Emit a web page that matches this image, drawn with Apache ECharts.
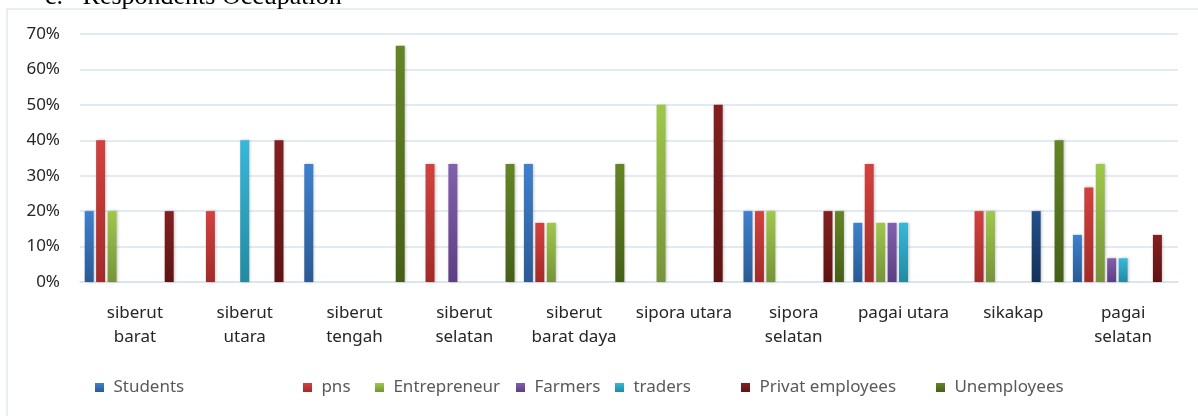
<!DOCTYPE html>
<html>
<head>
<meta charset="utf-8">
<script src="https://cdn.jsdelivr.net/npm/echarts@6/dist/echarts.min.js"></script>
<style>
  html, body { margin: 0; padding: 0; background: #fff; }
  #main { width: 1198px; height: 416px; }
</style>
</head>
<body>
<div id="main"></div>
<script>
var categories = ['siberut\nbarat', 'siberut\nutara', 'siberut\ntengah', 'siberut\nselatan', 'siberut\nbarat daya',
                  'sipora utara', 'sipora\nselatan', 'pagai utara', 'sikakap', 'pagai\nselatan'];
var yTicks = [0, 10, 20, 30, 40, 50, 60, 70];

var students     = [20, null, 33.3, null, 33.3, null, 20, 16.7, null, 13.3];
var pns          = [40, 20, null, 33.3, 16.7, null, 20, 33.3, 20, 26.7];
var entrepreneur = [20, null, null, null, 16.7, 50, 20, 16.7, 20, 33.3];
var farmers      = [null, null, null, 33.3, null, null, null, 16.7, null, 6.7];
var traders      = [null, 40, null, null, null, null, null, 16.7, null, 6.7];
var series6      = [null, null, null, null, null, null, null, null, null, null];
var series7      = [null, null, null, null, null, null, null, null, 20, null];
var privat       = [20, 40, null, null, null, 50, 20, null, null, 13.3];
var unemployees  = [null, null, 66.7, 33.3, 33.3, null, 20, null, 40, null];

var chart = echarts.init(document.getElementById('main'));

function grad(top, bottom) {
	return new echarts.graphic.LinearGradient(0, 0, 0, 1, [
		{offset: 0, color: top},
		{offset: 1, color: bottom}
	]);
}

function bar(name, data, top, bottom) {
	return {
		name: name,
		type: 'bar',
		data: data,
		barWidth: 9,
		barGap: '27%',
		color: bottom,
		itemStyle: {
			color: grad(top, bottom),
			shadowColor: 'rgba(0,0,0,0.25)',
			shadowBlur: 3,
			shadowOffsetX: 1
		}
	};
}

var legendFont = {fontFamily: 'Noto Sans', fontSize: 17, color: '#595959'};
function leg(name, left) {
	return {
		data: [name],
		left: left,
		top: 374,
		itemWidth: 9,
		itemHeight: 9,
		itemGap: 0,
		icon: 'rect',
		formatter: ' {name}',
		textStyle: legendFont,
		selectedMode: false
	};
}

var option = {
	animation: false,
	title: {
		text: 'c.   Respondents Occupation',
		left: 40,
		top: -21,
		textStyle: {fontFamily: 'Liberation Serif', fontSize: 26, fontWeight: 'normal', color: '#000'}
	},
	graphic: [{
		type: 'rect',
		shape: {x: 7, y: 9, width: 1300, height: 500},
		style: {fill: 'none', stroke: '#d5dce6', lineWidth: 1},
		silent: true
	}],
	legend: [
		leg('Students', 90),
		leg('pns', 298),
		leg('Entrepreneur', 370),
		leg('Farmers', 511),
		leg('traders', 610),
		leg('Privat employees', 736),
		leg('Unemployees', 931)
	],
	grid: {left: 80, right: 20, top: 34, bottom: 134},
	xAxis: {
		type: 'category',
		data: categories,
		axisTick: {show: false},
		axisLine: {lineStyle: {color: '#d9e3f0', width: 1.5}},
		axisLabel: {
			interval: 0,
			margin: 19,
			lineHeight: 24,
			fontFamily: 'Noto Sans',
			fontSize: 17,
			color: '#262626'
		}
	},
	yAxis: {
		type: 'value',
		min: 0,
		max: yTicks[yTicks.length - 1],
		interval: 10,
		axisLine: {show: false},
		axisTick: {show: false},
		splitLine: {lineStyle: {color: '#d9e3f0', width: 1.5}},
		axisLabel: {
			margin: 20,
			formatter: '{value}%',
			fontFamily: 'Noto Sans',
			fontSize: 17,
			color: '#262626'
		}
	},
	series: [
		bar('Students', students, '#3f80cd', '#2b5a94'),
		bar('pns', pns, '#d2423f', '#a12b29'),
		bar('Entrepreneur', entrepreneur, '#9fc84a', '#76933b'),
		bar('Farmers', farmers, '#8160ad', '#5e3f82'),
		bar('traders', traders, '#38b8d9', '#228aa1'),
		bar('Series 6', series6, '#2d4f7c', '#1c3556'),
		bar('Series 7', series7, '#22508a', '#16325a'),
		bar('Privat employees', privat, '#832020', '#5e1414'),
		bar('Unemployees', unemployees, '#648526', '#465f18')
	]
};

chart.setOption(option);
</script>
</body>
</html>
